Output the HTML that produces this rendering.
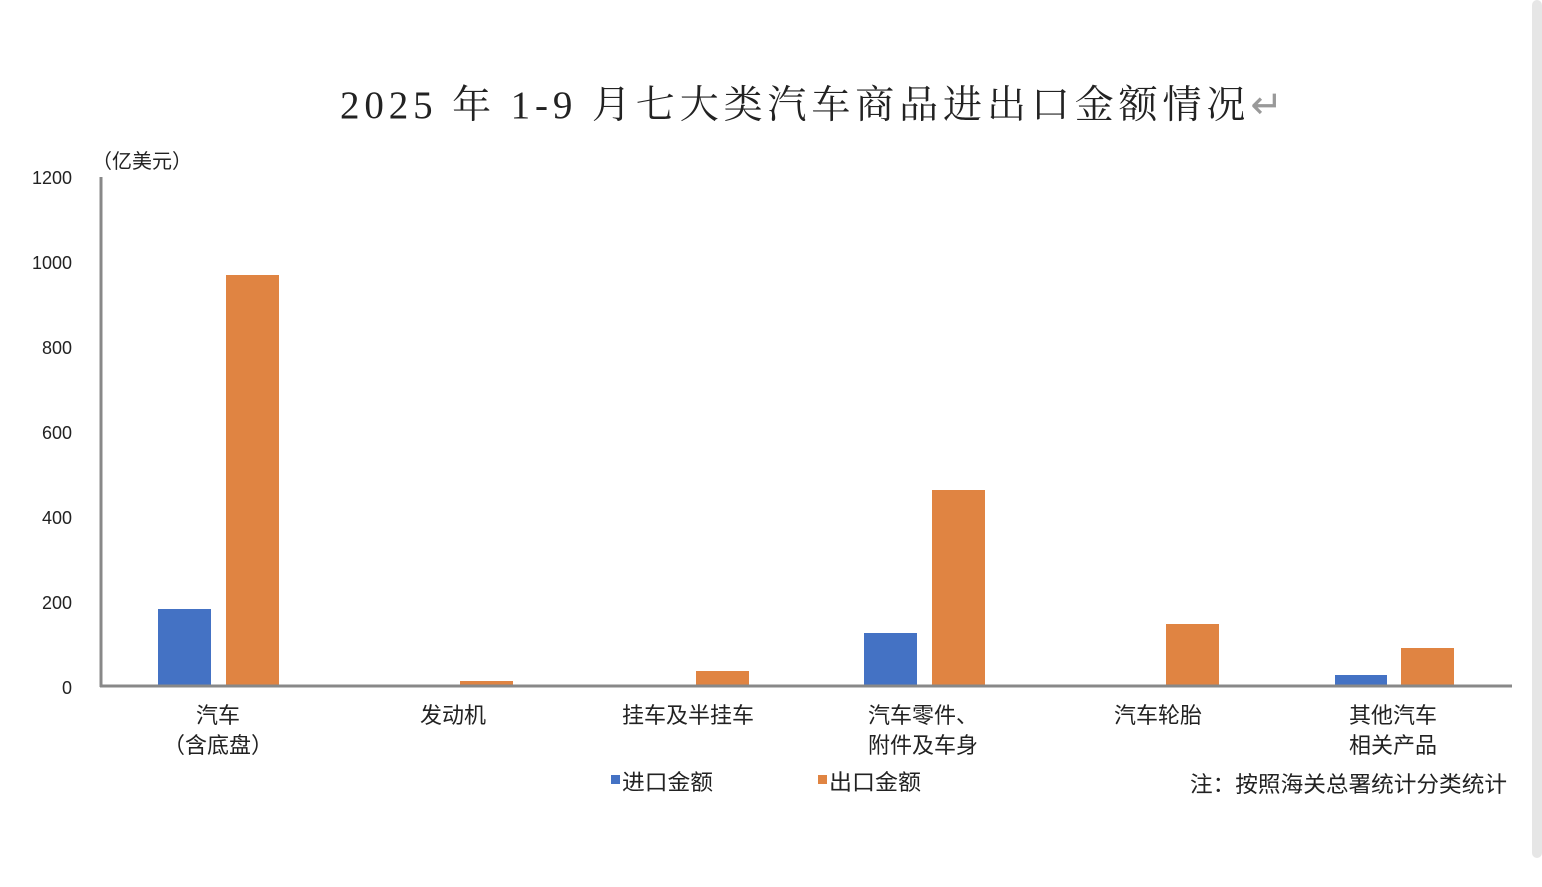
<!DOCTYPE html>
<html><head><meta charset="utf-8"><style>
html,body{margin:0;padding:0;background:#fff;}
body{width:1542px;height:882px;overflow:hidden;position:relative;}
svg text{font-family:"Liberation Sans","Noto Sans CJK SC",sans-serif;fill:#222;}
</style></head><body>
<svg width="1542" height="882" viewBox="0 0 1542 882" xmlns="http://www.w3.org/2000/svg">
<rect x="1532" y="0" width="10" height="858" rx="5" fill="#e6e6e6"/>
<text x="340" y="118" font-size="39" textLength="943" lengthAdjust="spacing" style="font-family:'Liberation Serif','Noto Serif CJK SC',serif" fill="#222">2025 年 1-9 月七大类汽车商品进出口金额情况<tspan fill="#999">↵</tspan></text>
<text x="92" y="168" font-size="20">（亿美元）</text>
<g font-size="18" text-anchor="end" fill="#333">
<text x="72" y="184">1200</text><text x="72" y="269">1000</text><text x="72" y="354">800</text>
<text x="72" y="439">600</text><text x="72" y="524">400</text><text x="72" y="609">200</text><text x="72" y="694">0</text>
</g>
<line x1="101" y1="177" x2="101" y2="687" stroke="#888" stroke-width="3"/>
<g fill="#4472c4">
<rect x="158" y="609" width="53" height="77"/>
<rect x="864" y="633" width="53" height="53"/>
<rect x="1335" y="675" width="52" height="11"/>
</g>
<g fill="#e08442">
<rect x="226" y="275" width="53" height="411"/>
<rect x="460" y="681" width="53" height="5"/>
<rect x="696" y="671" width="53" height="15"/>
<rect x="932" y="490" width="53" height="196"/>
<rect x="1166" y="624" width="53" height="62"/>
<rect x="1401" y="648" width="53" height="38"/>
</g>
<line x1="100" y1="686" x2="1512" y2="686" stroke="#888" stroke-width="3"/>
<g font-size="22" text-anchor="middle">
<text x="218" y="723">汽车</text><text x="218" y="753">（含底盘）</text>
<text x="453" y="723">发动机</text>
<text x="688" y="723">挂车及半挂车</text>
<text x="923" y="723">汽车零件、</text><text x="923" y="753">附件及车身</text>
<text x="1158" y="723">汽车轮胎</text>
<text x="1393" y="723">其他汽车</text><text x="1393" y="753">相关产品</text>
</g>
<rect x="611" y="775" width="9" height="9" fill="#4472c4"/>
<text x="622" y="790" font-size="22" textLength="91" lengthAdjust="spacingAndGlyphs">进口金额</text>
<rect x="818" y="775" width="9" height="9" fill="#e08442"/>
<text x="829" y="790" font-size="22" textLength="92" lengthAdjust="spacingAndGlyphs">出口金额</text>
<text x="1190" y="792" font-size="22" textLength="317" lengthAdjust="spacingAndGlyphs">注：按照海关总署统计分类统计</text>
</svg>
</body></html>
